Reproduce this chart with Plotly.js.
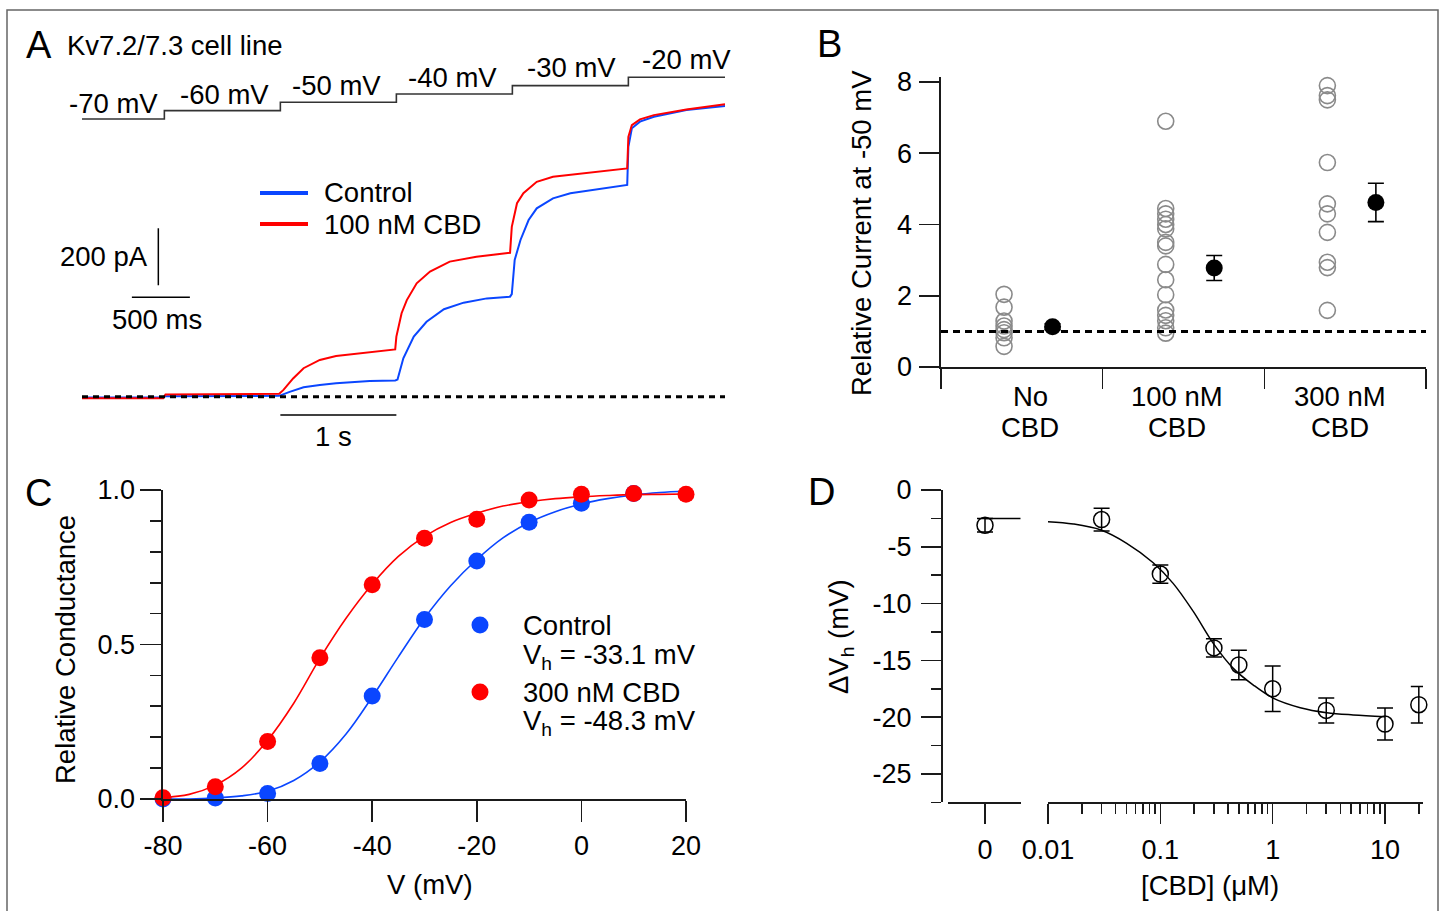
<!DOCTYPE html>
<html><head><meta charset="utf-8">
<script src="https://cdn.plot.ly/plotly-3.0.1.min.js"></script>
<style>html,body{margin:0;padding:0;background:#fff}#plot{width:1447px;height:911px}</style>
</head><body><div id="plot"></div>
<script>
// ---------- Panel A : voltage protocol and current traces ----------
const protoT = [0, 0.71, 1.71, 2.71, 3.71, 4.71, 5.543];
const protoV = [-70, -60, -50, -40, -30, -20, -20];
const protoLabels = ['-70 mV', '-60 mV', '-50 mV', '-40 mV', '-30 mV', '-20 mV'];
const ctrlT = [0, 0.70, 0.72, 1.70, 1.79, 1.91, 2.05, 2.19, 2.48, 2.70, 2.72, 2.77, 2.86, 2.97, 3.12, 3.29, 3.49, 3.69, 3.705, 3.73, 3.78, 3.85, 3.92, 4.06, 4.21, 4.49, 4.70, 4.71, 4.74, 4.81, 4.93, 5.21, 5.543];
const ctrlI = [-3, -3, 2, 3, 17, 33, 41, 47, 55, 57, 60, 135, 211, 263, 307, 330, 345, 351, 360, 480, 550, 620, 661, 696, 714, 731, 743, 877, 942, 965, 982, 1006, 1020];
const cbdT = [0, 0.70, 0.72, 1.70, 1.735, 1.82, 1.91, 2.05, 2.19, 2.43, 2.70, 2.71, 2.755, 2.80, 2.885, 3.0, 3.17, 3.40, 3.69, 3.705, 3.75, 3.805, 3.92, 4.06, 4.35, 4.70, 4.71, 4.74, 4.81, 4.93, 5.21, 5.543];
const cbdI = [-5, -5, 8, 10, 23, 64, 100, 129, 143, 154, 166, 211, 293, 339, 398, 439, 474, 491, 505, 596, 679, 714, 754, 772, 786, 801, 912, 953, 973, 988, 1008, 1026];
const traceNamesA = ['Control', '100 nM CBD'];

// ---------- Panel B : relative current at -50 mV ----------
const bCatTop = ['No', '100 nM', '300 nM'];
const bCatBottom = ['CBD', 'CBD', 'CBD'];
const bNoCBD = [2.04, 1.68, 1.29, 1.15, 1.05, 0.96, 0.82, 0.58];
const b100nM = [6.9, 4.45, 4.3, 4.15, 4.0, 3.88, 3.5, 3.4, 2.88, 2.45, 2.03, 1.6, 1.45, 1.3, 1.1, 0.95];
const b300nM = [7.9, 7.62, 7.5, 5.74, 4.58, 4.3, 3.78, 2.94, 2.79, 1.59];
const bMean = [1.13, 2.78, 4.62];
const bSem = [0.08, 0.35, 0.54];
const bTicks = ['0', '2', '4', '6', '8'];

// ---------- Panel C : conductance-voltage ----------
const cV = [-80, -70, -60, -50, -40, -30, -20, -10, 0, 10, 20];
const cControl = [0.0, 0.003, 0.018, 0.115, 0.333, 0.581, 0.770, 0.896, 0.957, 0.989, 1.003];
const cCBD = [0.004, 0.040, 0.186, 0.457, 0.693, 0.844, 0.905, 0.968, 0.986, 0.989, 0.986];
const cFitV = [-80, -75, -70, -65, -60, -55, -50, -45, -40, -35, -30, -25, -20, -15, -10, -5, 0, 5, 10, 15, 20];
const cFitControl = [0.0, 0.0, 0.003, 0.01, 0.025, 0.06, 0.12, 0.21, 0.33, 0.46, 0.585, 0.69, 0.775, 0.845, 0.895, 0.93, 0.955, 0.972, 0.984, 0.992, 0.997];
const cFitCBD = [0.005, 0.015, 0.045, 0.10, 0.19, 0.31, 0.455, 0.585, 0.695, 0.785, 0.85, 0.895, 0.925, 0.948, 0.962, 0.972, 0.978, 0.982, 0.985, 0.986, 0.987];
const cLegend = ['Control', 'V<sub>h</sub> = -33.1 mV', '300 nM CBD', 'V<sub>h</sub> = -48.3 mV'];
const cXTicks = [-80, -60, -40, -20, 0, 20];
const cXTickText = ['-80', '-60', '-40', '-20', '0', '20'];

// ---------- Panel D : concentration dependence ----------
const dZeroConc = [0];
const dZeroVh = [-3.1];
const dZeroErr = [0.6];
const dZeroFitX = [0, 0.965];
const dZeroFitVh = [-2.5, -2.5];
const dConc = [0.03, 0.1, 0.3, 0.5, 1, 3, 10, 20];
const dVh = [-2.6, -7.4, -13.9, -15.4, -17.5, -19.4, -20.6, -18.9];
const dErr = [1.0, 0.8, 0.8, 1.3, 2.0, 1.1, 1.4, 1.6];
const dFitConc = [0.01, 0.0168, 0.0296, 0.0502, 0.0864, 0.130, 0.197, 0.296, 0.446, 0.673, 1.02, 1.76, 3.03, 5.2, 10];
const dFitVh = [-2.79, -2.99, -3.52, -4.69, -6.40, -8.22, -10.71, -13.5, -15.7, -17.17, -18.34, -19.16, -19.6, -19.8, -19.95];
const dYTicks = [0, -5, -10, -15, -20, -25];
const dYTickText = ['0', '-5', '-10', '-15', '-20', '-25'];
const dLogTicks = [0.01, 0.1, 1, 10];
const dLogTickText = ['0.01', '0.1', '1', '10'];
const dMinorTicks = [0.02,0.03,0.04,0.05,0.06,0.07,0.08,0.09,0.2,0.3,0.4,0.5,0.6,0.7,0.8,0.9,2,3,4,5,6,7,8,9,20];

// ---------- layout helpers ----------
const W = 1447, H = 911;
const X = p => p / W;
const Y = p => 1 - p / H;
const FONT = 'Liberation Sans, Arial, Helvetica, sans-serif';
const BLUE = '#0a46ff', RED = '#ff0000', AX = '#1a1a1a';
const TF = {family: FONT, size: 27, color: '#000'};

const traces = [];
// A
traces.push({x: protoT, y: protoV, xaxis: 'x', yaxis: 'y2', mode: 'lines', line: {shape: 'hv', color: '#333', width: 1.6}, hoverinfo: 'skip'});
traces.push({x: ctrlT, y: ctrlI, name: traceNamesA[0], xaxis: 'x', yaxis: 'y', mode: 'lines', line: {color: BLUE, width: 2}});
traces.push({x: cbdT, y: cbdI, name: traceNamesA[1], xaxis: 'x', yaxis: 'y', mode: 'lines', line: {color: RED, width: 2}});
// B
const bGroups = [bNoCBD, b100nM, b300nM];
bGroups.forEach((g, i) => {
  traces.push({x: g.map(() => i + 0.39), y: g, xaxis: 'x2', yaxis: 'y3', mode: 'markers', cliponaxis: false,
    marker: {symbol: 'circle-open', size: 16, color: '#8a8a8a', line: {width: 1.6}}});
});
traces.push({x: bMean.map((_, i) => i + 0.69), y: bMean, xaxis: 'x2', yaxis: 'y3', mode: 'markers', cliponaxis: false,
  marker: {symbol: 'circle', size: 17, color: '#000'},
  error_y: {type: 'data', array: bSem, color: '#000', thickness: 1.6, width: 8}});
// C
traces.push({x: cFitV, y: cFitControl, xaxis: 'x3', yaxis: 'y4', mode: 'lines', line: {color: BLUE, width: 1.6, shape: 'spline'}, cliponaxis: false});
traces.push({x: cFitV, y: cFitCBD, xaxis: 'x3', yaxis: 'y4', mode: 'lines', line: {color: RED, width: 1.6, shape: 'spline'}, cliponaxis: false});
traces.push({x: cV, y: cControl, xaxis: 'x3', yaxis: 'y4', mode: 'markers', cliponaxis: false, marker: {size: 17, color: BLUE}});
traces.push({x: cV, y: cCBD, xaxis: 'x3', yaxis: 'y4', mode: 'markers', cliponaxis: false, marker: {size: 17, color: RED}});
// D
traces.push({x: dZeroFitX, y: dZeroFitVh, xaxis: 'x4', yaxis: 'y5', mode: 'lines', line: {color: '#000', width: 1.5}, cliponaxis: false});
traces.push({x: dZeroConc, y: dZeroVh, xaxis: 'x4', yaxis: 'y5', mode: 'markers', cliponaxis: false,
  marker: {symbol: 'circle-open', size: 16, color: '#000', line: {width: 1.5}},
  error_y: {type: 'data', array: dZeroErr, color: '#000', thickness: 1.5, width: 8}});
traces.push({x: dFitConc, y: dFitVh, xaxis: 'x5', yaxis: 'y5', mode: 'lines', line: {color: '#000', width: 1.5, shape: 'spline'}, cliponaxis: false});
traces.push({x: dConc, y: dVh, xaxis: 'x5', yaxis: 'y5', mode: 'markers', cliponaxis: false,
  marker: {symbol: 'circle-open', size: 16, color: '#000', line: {width: 1.5}},
  error_y: {type: 'data', array: dErr, color: '#000', thickness: 1.5, width: 8}});

const axBase = {showline: true, linecolor: AX, linewidth: 1.6, ticks: 'outside', tickcolor: AX, tickwidth: 1.6,
  showgrid: false, zeroline: false, tickfont: TF, fixedrange: true, automargin: false};

const layout = {
  width: W, height: H, margin: {l: 0, r: 0, t: 0, b: 0},
  paper_bgcolor: '#fff', plot_bgcolor: 'rgba(0,0,0,0)', showlegend: false,
  font: {family: FONT, size: 27, color: '#000'},
  // A
  xaxis: {domain: [X(82), X(725)], range: [0, 5.543], visible: false, fixedrange: true},
  yaxis: {domain: [Y(440), Y(40)], range: [-151.9, 1251.6], visible: false, fixedrange: true},
  yaxis2: {overlaying: 'y', anchor: 'x', range: [-454.9, 24.7], visible: false, fixedrange: true},
  // B
  xaxis2: Object.assign({}, axBase, {domain: [X(941), X(1426)], anchor: 'y3', range: [0, 3],
    tickvals: [0, 1, 2, 3], showticklabels: false, ticklen: 20}),
  yaxis3: Object.assign({}, axBase, {domain: [Y(367), Y(76.7)], anchor: 'x2', range: [0, 8.15],
    tickvals: [0, 2, 4, 6, 8], ticktext: bTicks, ticklen: 20, ticklabelstandoff: 2}),
  // C
  xaxis3: Object.assign({}, axBase, {domain: [X(163), X(686)], anchor: 'y4', range: [-80, 20],
    tickvals: cXTicks, ticktext: cXTickText, ticklen: 21, ticklabelstandoff: 1}),
  yaxis4: Object.assign({}, axBase, {domain: [Y(799), Y(490)], anchor: 'x3', range: [0, 1],
    tickvals: [0, 0.5, 1], ticktext: ['0.0', '0.5', '1.0'], ticklen: 21, ticklabelstandoff: 0,
    minor: {dtick: 0.1, ticks: 'outside', ticklen: 11, tickcolor: AX, tickwidth: 1.6}}),
  // D
  xaxis4: Object.assign({}, axBase, {domain: [X(948), X(1020.7)], anchor: 'y5', range: [-1, 0.965],
    tickvals: [0], ticktext: ['0'], ticklen: 20, ticklabelstandoff: 3}),
  xaxis5: Object.assign({}, axBase, {domain: [X(1048), X(1423)], anchor: 'y5', type: 'log', range: [-2, 1.3383],
    tickvals: dLogTicks, ticktext: dLogTickText, ticklen: 20, ticklabelstandoff: 3,
    minor: {tickmode: 'array', tickvals: dMinorTicks, ticks: 'outside', ticklen: 10, tickcolor: AX, tickwidth: 1.6}}),
  yaxis5: Object.assign({}, axBase, {domain: [Y(802.4), Y(490)], anchor: 'free', position: X(941), range: [-27.5, 0],
    tickvals: dYTicks, ticktext: dYTickText, ticklen: 20, ticklabelstandoff: 4,
    minor: {dtick: 2.5, ticks: 'outside', ticklen: 10, tickcolor: AX, tickwidth: 1.6}}),
  shapes: [],
  annotations: []
};

const S = layout.shapes, A = layout.annotations;
// frame
S.push({type: 'rect', xref: 'paper', yref: 'paper', x0: X(7), x1: X(1438), y0: Y(915), y1: Y(10), line: {color: '#666', width: 1.5}, layer: 'below'});
// A zero line and scale bars
S.push({type: 'line', xref: 'x', yref: 'y', x0: 0, x1: 5.543, y0: 0, y1: 0, line: {color: '#000', width: 3, dash: '6px,5px'}});
S.push({type: 'line', xref: 'x', yref: 'y', x0: 0.658, x1: 0.658, y0: 391, y1: 591, line: {color: '#000', width: 1.5}});
S.push({type: 'line', xref: 'x', yref: 'y', x0: 0.43, x1: 0.93, y0: 349, y1: 349, line: {color: '#000', width: 1.5}});
S.push({type: 'line', xref: 'x', yref: 'y', x0: 1.71, x1: 2.71, y0: -64, y1: -64, line: {color: '#000', width: 1.5}});
// A legend
S.push({type: 'line', xref: 'paper', yref: 'paper', x0: X(260), x1: X(308), y0: Y(193), y1: Y(193), line: {color: BLUE, width: 4}});
S.push({type: 'line', xref: 'paper', yref: 'paper', x0: X(260), x1: X(308), y0: Y(224), y1: Y(224), line: {color: RED, width: 4}});
// B dashed reference
S.push({type: 'line', xref: 'x2', yref: 'y3', x0: 0, x1: 3, y0: 1, y1: 1, line: {color: '#000', width: 3, dash: '7px,5px'}});
// C legend markers
[[625, BLUE], [692, RED]].forEach(([yy, col]) => {
  S.push({type: 'circle', xref: 'paper', yref: 'paper', xsizemode: 'pixel', ysizemode: 'pixel',
    xanchor: X(480), yanchor: Y(yy), x0: -8.5, x1: 8.5, y0: -8.5, y1: 8.5, fillcolor: col, line: {width: 0}});
});

function txt(text, x, y, opts) {
  A.push(Object.assign({text: text, xref: 'paper', yref: 'paper', x: X(x), y: Y(y), showarrow: false,
    xanchor: 'center', yanchor: 'middle', font: {family: FONT, size: 27.5, color: '#000'}}, opts || {}));
}
// panel letters
txt('A', 39, 45, {font: {family: FONT, size: 38, color: '#000'}});
txt('B', 830, 44, {font: {family: FONT, size: 38, color: '#000'}});
txt('C', 38, 493, {font: {family: FONT, size: 38, color: '#000'}});
txt('D', 822, 492, {font: {family: FONT, size: 38, color: '#000'}});
// A texts
txt('Kv7.2/7.3 cell line', 65, 46, {xanchor: 'left'});
const protoLabelX = [113, 224, 336, 453, 571, 686];
const protoLabelY = [103, 94, 86, 77, 68, 59];
protoLabels.forEach((l, i) => txt(l, protoLabelX[i], protoLabelY[i]));
txt(traceNamesA[0], 322, 193, {xanchor: 'left'});
txt(traceNamesA[1], 322, 224, {xanchor: 'left'});
txt('200 pA', 150, 256, {xanchor: 'right'});
txt('500 ms', 157, 319);
txt('1 s', 333, 436);
// B texts
const bCatX = [1030, 1177, 1340];
bCatTop.forEach((c, i) => { txt(c, bCatX[i], 396); txt(bCatBottom[i], bCatX[i], 427); });
txt('Relative Current at -50 mV', 862, 233, {textangle: -90});
// C texts
txt('Relative Conductance', 65, 650, {textangle: -90});
txt('V (mV)', 430, 884);
const cLegY = [625, 656, 692, 722];
cLegend.forEach((l, i) => txt(l, 521, cLegY[i], {xanchor: 'left'}));
// D texts
txt('ΔV<sub>h</sub> (mV)', 840, 637, {textangle: -90});
txt('[CBD] (μM)', 1210, 885);

Plotly.newPlot('plot', traces, layout, {staticPlot: true, displayModeBar: false});
</script></body></html>
